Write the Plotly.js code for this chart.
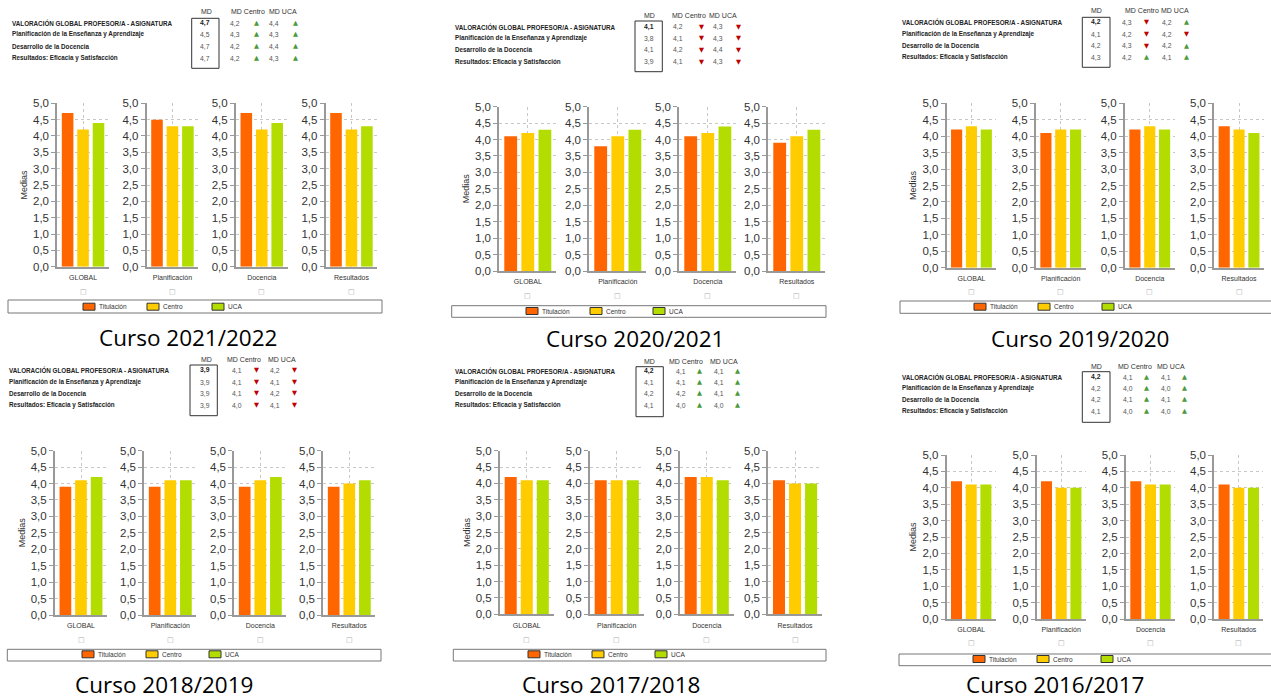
<!DOCTYPE html>
<html><head><meta charset="utf-8">
<script src="https://cdn.plot.ly/plotly-3.0.1.min.js"></script>
<style>html,body{margin:0;padding:0;background:#fff}#chart{width:1271px;height:700px}</style>
</head><body><div id="chart"></div>
<script>
// ---------- DATA ----------
const cursos = ['Curso 2021/2022','Curso 2020/2021','Curso 2019/2020','Curso 2018/2019','Curso 2017/2018','Curso 2016/2017'];
const categorias = ['GLOBAL','Planificación','Docencia','Resultados'];
const filas = ['VALORACIÓN GLOBAL PROFESOR/A - ASIGNATURA','Planificación de la Enseñanza y Aprendizaje','Desarrollo de la Docencia','Resultados: Eficacia y Satisfacción'];
const series = ['Titulación','Centro','UCA'];
const encabezados = ['MD','MD Centro','MD UCA'];

const titulacion2122 = [4.7,4.5,4.7,4.7];
const centro2122     = [4.2,4.3,4.2,4.2];
const uca2122        = [4.4,4.3,4.4,4.3];

const titulacion2021 = [4.1,3.8,4.1,3.9];
const centro2021     = [4.2,4.1,4.2,4.1];
const uca2021        = [4.3,4.3,4.4,4.3];

const titulacion1920 = [4.2,4.1,4.2,4.3];
const centro1920     = [4.3,4.2,4.3,4.2];
const uca1920        = [4.2,4.2,4.2,4.1];

const titulacion1819 = [3.9,3.9,3.9,3.9];
const centro1819     = [4.1,4.1,4.1,4.0];
const uca1819        = [4.2,4.1,4.2,4.1];

const titulacion1718 = [4.2,4.1,4.2,4.1];
const centro1718     = [4.1,4.1,4.2,4.0];
const uca1718        = [4.1,4.1,4.1,4.0];

const titulacion1617 = [4.2,4.2,4.2,4.1];
const centro1617     = [4.1,4.0,4.1,4.0];
const uca1617        = [4.1,4.0,4.1,4.0];

const datos = [
  [titulacion2122, centro2122, uca2122],
  [titulacion2021, centro2021, uca2021],
  [titulacion1920, centro1920, uca1920],
  [titulacion1819, centro1819, uca1819],
  [titulacion1718, centro1718, uca1718],
  [titulacion1617, centro1617, uca1617]
];

// ---------- STYLE / LAYOUT GEOMETRY (pixels) ----------
const colores = ['#FF6600','#FFCC00','#B3DD00'];
const W = 1271, H = 700;
const G = [
 {axL:[57.3,146.7,236,325.7], w:51.5, y5:103.3, y0:266.7, sq:291.7, lb:[8,382,300,313], sw:[83,147,212], ly:306.7, med:[25,185], cap:[188,337],
  hy:11.7, hx:[206,247.5,283], rows:[23.3,34.3,46,58.3], lx:10, mdx:205, cx:235, cax:256.7, ux:274, uax:295, box:[191.7,219,18.3,68.3]},
 {axL:[499.3,589.3,679.3,768.3], w:57, y5:106.7, y0:271, sq:295.7, lb:[451.7,826,305.7,317.3], sw:[526,590,653], ly:311, med:[469,188], cap:[634.7,338],
  hy:15.7, hx:[649,688.5,723], rows:[26.7,38.3,50,61.7], lx:453, mdx:649, cx:677.7, cax:701.7, ux:718.3, uax:738.3, box:[635,662.3,21,71.7]},
 {axL:[946.7,1036,1125,1214.3], w:49.5, y5:103.3, y0:267.7, sq:291.7, lb:[900,1275,301,313.3], sw:[974,1038,1102], ly:306.7, med:[917,184], cap:[1079.5,338],
  hy:10.7, hx:[1096,1141.7,1175], rows:[22.3,34,45.7,57.3], lx:900, mdx:1096, cx:1126.7, cax:1146.7, ux:1166.7, uax:1186.7, box:[1082.3,1110,17.3,67.3]},
 {axL:[55,144.3,234.3,323.3], w:52, y5:450.7, y0:615, sq:640, lb:[7.3,381,649.3,661], sw:[82,146,209], ly:654.3, med:[24,531.7], cap:[164,684],
  hy:359.3, hx:[206,243.5,282], rows:[370,382.3,393.3,405], lx:7.3, mdx:205, cx:237.3, cax:256, ux:275, uax:294, box:[190,217.3,365,415.7]},
 {axL:[500,590,680,768.3], w:53.5, y5:450.7, y0:614.3, sq:640, lb:[453.3,826,649.3,661], sw:[528,592,655], ly:654.3, med:[470.7,531.7], cap:[610.5,684],
  hy:361, hx:[649,686,724], rows:[371,382.3,393.3,405], lx:453.3, mdx:649, cx:681, cax:699.3, ux:719.3, uax:737.7, box:[636,663.3,366.7,416.7]},
 {axL:[946.7,1036.7,1126,1214.3], w:49, y5:455, y0:619, sq:643.3, lb:[899,1275,654,665.7], sw:[973,1037,1101], ly:659, med:[916,536.7], cap:[1055,684],
  hy:366.7, hx:[1096,1135,1171], rows:[377.3,388.3,399.3,411], lx:900, mdx:1096, cx:1127.7, cax:1146.7, ux:1166, uax:1184.3, box:[1082.3,1110,371.7,422.3]}
];

const PX = v => v / W;
const PY = v => 1 - v / H;
const fmt = v => v.toFixed(1).replace('.', ',');
const FONT = 'Liberation Sans, Arial, sans-serif';

const traces = [];
const layout = {
  width: W, height: H,
  margin: {l:0, r:0, t:0, b:0},
  paper_bgcolor: '#fff', plot_bgcolor: '#fff',
  showlegend: false,
  barmode: 'group', bargap: 0.1, bargroupgap: 0.25,
  separators: ',.',
  font: {family: FONT, color: '#333'},
  annotations: [], shapes: []
};

datos.forEach((d, p) => {
  const g = G[p];
  categorias.forEach((cat, c) => {
    const k = p * 4 + c + 1;
    const xa = 'x' + k, ya = 'y' + k;
    d.forEach((serie, s) => {
      traces.push({
        type: 'bar', x: [cat], y: [serie[c]], name: series[s],
        xaxis: xa, yaxis: ya,
        marker: {color: colores[s], line: {width: 0}},
        hoverinfo: 'skip'
      });
    });
    const xl = g.axL[c];
    layout['xaxis' + k] = {
      type: 'category', domain: [PX(xl), PX(xl + g.w)], anchor: ya,
      showline: true, linecolor: '#999', linewidth: 2,
      showgrid: true, gridcolor: '#c8c8c8', griddash: 'dot', gridwidth: 1,
      ticks: '', tickfont: {size: 7, color: '#333', family: FONT},
      ticklabelstandoff: 3, fixedrange: true
    };
    layout['yaxis' + k] = {
      domain: [PY(g.y0), PY(g.y5)], anchor: xa, range: [0, 5], dtick: 0.5,
      tickformat: '.1f', showline: true, linecolor: '#999', linewidth: 2,
      ticks: 'outside', ticklen: 4, tickcolor: '#999',
      showgrid: true, gridcolor: '#c8c8c8', griddash: 'dot', gridwidth: 1,
      zeroline: false, tickfont: {size: 11.5, color: '#333', family: FONT},
      fixedrange: true
    };
    if (c === 0) {
      layout['yaxis' + k].title = {text: 'Medias', font: {size: 9, color: '#333', family: FONT}, standoff: 4};
    }
    // missing-glyph square under category label
    layout.annotations.push({xref: 'paper', yref: 'paper', x: PX(xl + g.w / 2), y: PY(g.sq),
      text: '□', showarrow: false, font: {size: 7, color: '#aaa', family: 'DejaVu Sans'}, xanchor: 'center', yanchor: 'middle'});
  });

  // caption
  layout.annotations.push({xref: 'paper', yref: 'paper', x: PX(g.cap[0]), y: PY(g.cap[1]),
    text: cursos[p], showarrow: false, font: {size: 22.5, color: '#000', family: 'Open Sans, sans-serif'},
    xanchor: 'center', yanchor: 'middle'});

  // legend box
  layout.shapes.push({type: 'rect', xref: 'paper', yref: 'paper',
    x0: PX(g.lb[0]), x1: PX(g.lb[1]), y0: PY(g.lb[3]), y1: PY(g.lb[2]),
    line: {color: '#777', width: 1}, fillcolor: '#fff', layer: 'below'});
  series.forEach((nm, s) => {
    const sx = g.sw[s];
    layout.shapes.push({type: 'rect', xref: 'paper', yref: 'paper',
      x0: PX(sx), x1: PX(sx + 12), y0: PY(g.ly + 3.5), y1: PY(g.ly - 3.5),
      line: {color: '#333', width: 1}, fillcolor: colores[s]});
    layout.annotations.push({xref: 'paper', yref: 'paper', x: PX(sx + 14), y: PY(g.ly),
      text: nm, showarrow: false, font: {size: 6.5, color: '#333', family: FONT},
      xanchor: 'left', yanchor: 'middle'});
  });

  // table header
  g.hx.forEach((hx, i) => {
    layout.annotations.push({xref: 'paper', yref: 'paper', x: PX(hx), y: PY(g.hy),
      text: encabezados[i], showarrow: false, font: {size: 7, color: '#333', family: FONT},
      xanchor: 'center', yanchor: 'middle'});
  });
  // table rows
  filas.forEach((f, r) => {
    const yy = PY(g.rows[r]);
    const md = d[0][r], ce = d[1][r], uc = d[2][r];
    layout.annotations.push({xref: 'paper', yref: 'paper', x: PX(g.lx), y: yy,
      text: '<b>' + f + '</b>', showarrow: false, font: {size: 6.3, color: '#222', family: FONT},
      xanchor: 'left', yanchor: 'middle'});
    layout.annotations.push({xref: 'paper', yref: 'paper', x: PX(g.mdx), y: yy,
      text: r === 0 ? '<b>' + fmt(md) + '</b>' : fmt(md), showarrow: false,
      font: {size: 6.8, color: r === 0 ? '#222' : '#555', family: FONT}, xanchor: 'center', yanchor: 'middle'});
    layout.annotations.push({xref: 'paper', yref: 'paper', x: PX(g.cx), y: yy,
      text: fmt(ce), showarrow: false, font: {size: 6.8, color: '#555', family: FONT}, xanchor: 'center', yanchor: 'middle'});
    layout.annotations.push({xref: 'paper', yref: 'paper', x: PX(g.ux), y: yy,
      text: fmt(uc), showarrow: false, font: {size: 6.8, color: '#555', family: FONT}, xanchor: 'center', yanchor: 'middle'});
    const upC = md >= ce, upU = md >= uc;
    layout.annotations.push({xref: 'paper', yref: 'paper', x: PX(g.cax), y: yy,
      text: upC ? '▲' : '▼', showarrow: false,
      font: {size: 6.5, color: upC ? '#4E9A3A' : '#C00000', family: 'DejaVu Sans'}, xanchor: 'center', yanchor: 'middle'});
    layout.annotations.push({xref: 'paper', yref: 'paper', x: PX(g.uax), y: yy,
      text: upU ? '▲' : '▼', showarrow: false,
      font: {size: 6.5, color: upU ? '#4E9A3A' : '#C00000', family: 'DejaVu Sans'}, xanchor: 'center', yanchor: 'middle'});
  });
  // MD box
  layout.shapes.push({type: 'rect', xref: 'paper', yref: 'paper',
    x0: PX(g.box[0]), x1: PX(g.box[1]), y0: PY(g.box[3]), y1: PY(g.box[2]),
    line: {color: '#333', width: 1}});
});

Plotly.newPlot('chart', traces, layout, {staticPlot: true, displayModeBar: false});
</script>
</body></html>
